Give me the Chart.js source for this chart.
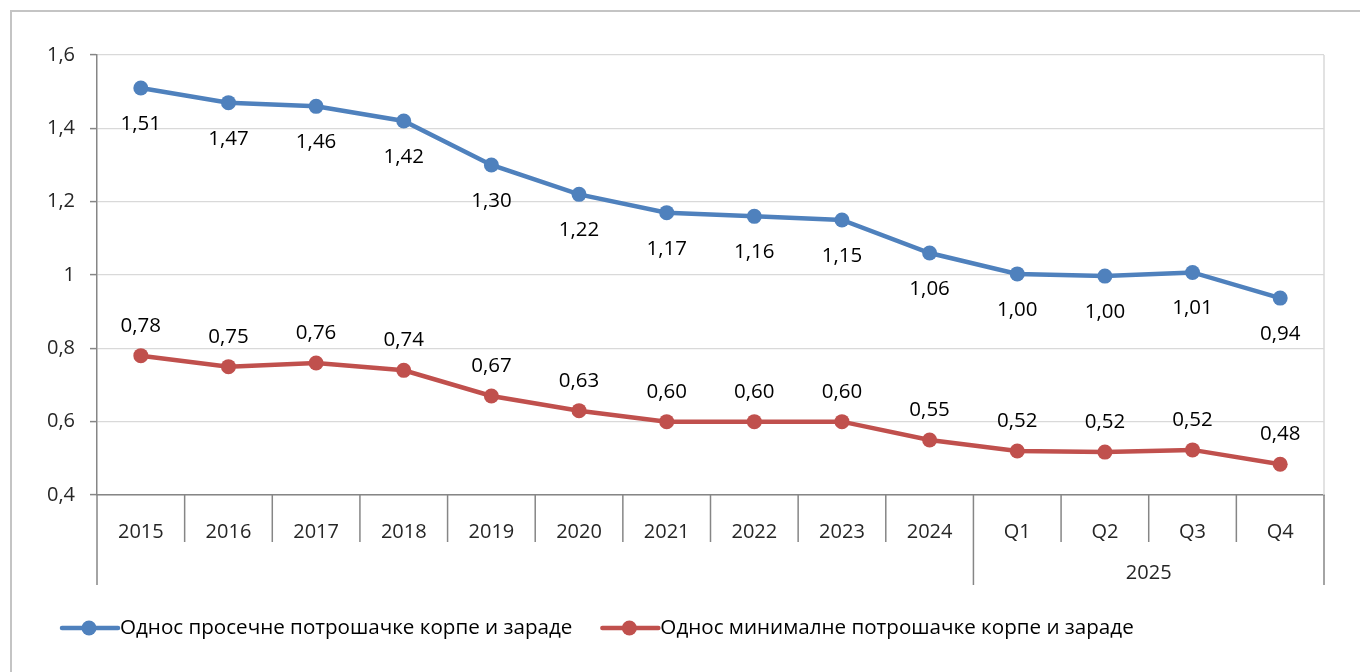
<!DOCTYPE html>
<html>
<head>
<meta charset="utf-8">
<script src="https://cdn.jsdelivr.net/npm/chart.js@4"></script>
<style>
    html, body { margin: 0; padding: 0; background: #fff; overflow: hidden; }
    #okvir {
        position: absolute; left: 10px; top: 10px;
        width: 1400px; height: 700px;
        border: 2px solid #c4c4c4; box-sizing: border-box;
    }
    #kutija { position: absolute; left: 0; top: 0; width: 1360px; height: 672px; }
</style>
</head>
<body>
<div id="okvir"></div>
<div id="kutija"><canvas id="grafikon"></canvas></div>
<script>
const kategorije = ['2015', '2016', '2017', '2018', '2019', '2020', '2021', '2022', '2023', '2024', 'Q1', 'Q2', 'Q3', 'Q4']
// [natpis, prvi indeks, poslednji indeks]
const grupe = [['2025', 10, 13]]

const prosecna = [1.51, 1.47, 1.46, 1.42, 1.30, 1.22, 1.17, 1.16, 1.15, 1.06, 1.003, 0.997, 1.007, 0.937]
const minimalna = [0.78, 0.75, 0.76, 0.74, 0.67, 0.63, 0.60, 0.60, 0.60, 0.55, 0.520, 0.517, 0.523, 0.484]

const yMin = 0.4
const yMax = 1.6
const yKorak = 0.2

const plava = '#4f81bd'
const crvena = '#c0504d'
const siva = '#868686'
const svetloSiva = '#d9d9d9'
const font = "'Open Sans', 'Noto Sans', sans-serif"

const sZarezom = (v, dec) => v.toFixed(dec).replace('.', ',')

// vrednosti iznad/ispod tacaka
const natpisiVrednosti = {
    id: 'natpisiVrednosti',
    afterDatasetsDraw(chart) {
        const ctx = chart.ctx
        ctx.save()
        ctx.font = '20.5px ' + font
        ctx.fillStyle = '#000'
        ctx.textAlign = 'center'
        ctx.textBaseline = 'middle'
        chart.data.datasets.forEach((ds, i) => {
            const meta = chart.getDatasetMeta(i)
            meta.data.forEach((pt, j) => {
                const dy = ds.natpis === 'ispod' ? 36 : -30
                ctx.fillText(sZarezom(ds.data[j], 2), pt.x, pt.y + dy)
            })
        })
        ctx.restore()
    }
}

// podele kategorija, grupa "2025" i legenda
const osaKategorija = {
    id: 'osaKategorija',
    afterDraw(chart) {
        const ctx = chart.ctx
        const x = chart.scales.x
        const area = chart.chartArea
        const n = chart.data.labels.length
        const korak = x.getPixelForValue(1) - x.getPixelForValue(0)
        const ivica = i => x.getPixelForValue(0) - korak / 2 + i * korak

        const duge = new Set([0, n])
        grupe.forEach(g => { duge.add(g[1]); duge.add(g[2] + 1) })

        ctx.save()
        // desna ivica polja crtanja
        ctx.strokeStyle = svetloSiva
        ctx.lineWidth = 1.5
        ctx.beginPath()
        ctx.moveTo(area.right, area.top)
        ctx.lineTo(area.right, area.bottom)
        ctx.stroke()

        ctx.strokeStyle = siva
        ctx.lineWidth = 1.5
        for (let i = 0; i <= n; i++) {
            const px = ivica(i)
            const kraj = duge.has(i) ? area.bottom + 90 : area.bottom + 47
            ctx.beginPath()
            ctx.moveTo(px, area.bottom)
            ctx.lineTo(px, kraj)
            ctx.stroke()
        }

        ctx.font = '20px ' + font
        ctx.fillStyle = '#262626'
        ctx.textAlign = 'center'
        ctx.textBaseline = 'middle'
        grupe.forEach(g => {
            const cx = (ivica(g[1]) + ivica(g[2] + 1)) / 2
            ctx.fillText(g[0], cx, area.bottom + 78)
        })

        // legenda
        const ly = area.bottom + 133
        let lx = 62
        ctx.font = '20.6px ' + font
        ctx.textAlign = 'left'
        chart.data.datasets.forEach(ds => {
            ctx.strokeStyle = ds.borderColor
            ctx.lineWidth = 4.5
            ctx.lineCap = 'round'
            ctx.beginPath()
            ctx.moveTo(lx, ly)
            ctx.lineTo(lx + 56, ly)
            ctx.stroke()
            ctx.fillStyle = ds.borderColor
            ctx.beginPath()
            ctx.arc(lx + 27, ly, 7.5, 0, Math.PI * 2)
            ctx.fill()
            ctx.fillStyle = '#000'
            ctx.fillText(ds.label, lx + 58, ly)
            lx += 58 + ctx.measureText(ds.label).width + 30
        })
        ctx.restore()
    }
}

const data = {
    labels: kategorije,
    datasets: [
        {
            label: 'Однос просечне потрошачке корпе и зараде',
            data: prosecna,
            borderColor: plava,
            backgroundColor: plava,
            borderWidth: 4.5,
            pointRadius: 7.5,
            pointHoverRadius: 7.5,
            pointBorderWidth: 0,
            tension: 0,
            natpis: 'ispod'
        },
        {
            label: 'Однос минималне потрошачке корпе и зараде',
            data: minimalna,
            borderColor: crvena,
            backgroundColor: crvena,
            borderWidth: 4.5,
            pointRadius: 7.5,
            pointHoverRadius: 7.5,
            pointBorderWidth: 0,
            tension: 0,
            natpis: 'iznad'
        }
    ]
}

const config = {
    type: 'line',
    data: data,
    options: {
        responsive: true,
        maintainAspectRatio: false,
        animation: false,
        layout: { padding: { left: 0, top: 55, right: 36, bottom: 87 } },
        plugins: {
            legend: { display: false },
            tooltip: { enabled: false }
        },
        scales: {
            x: {
                type: 'category',
                offset: true,
                grid: { display: false },
                border: { color: siva, width: 1.5 },
                ticks: {
                    color: '#262626',
                    font: { family: font, size: 20 },
                    padding: 17,
                    maxRotation: 0,
                    autoSkip: false
                },
                afterFit: s => { s.height = 90 }
            },
            y: {
                min: yMin,
                max: yMax,
                grid: { color: svetloSiva, lineWidth: 1.2, tickLength: 7, tickColor: siva, tickWidth: 1.5 },
                border: { color: siva, width: 1.5 },
                ticks: {
                    stepSize: yKorak,
                    color: '#262626',
                    font: { family: font, size: 20 },
                    padding: 15,
                    callback: v => String(Math.round(v * 10) / 10).replace('.', ',')
                },
                afterFit: s => { s.width = 97 }
            }
        }
    },
    plugins: [natpisiVrednosti, osaKategorija]
}

const grafikon = new Chart(document.querySelector('#grafikon'), config)
</script>
</body>
</html>
